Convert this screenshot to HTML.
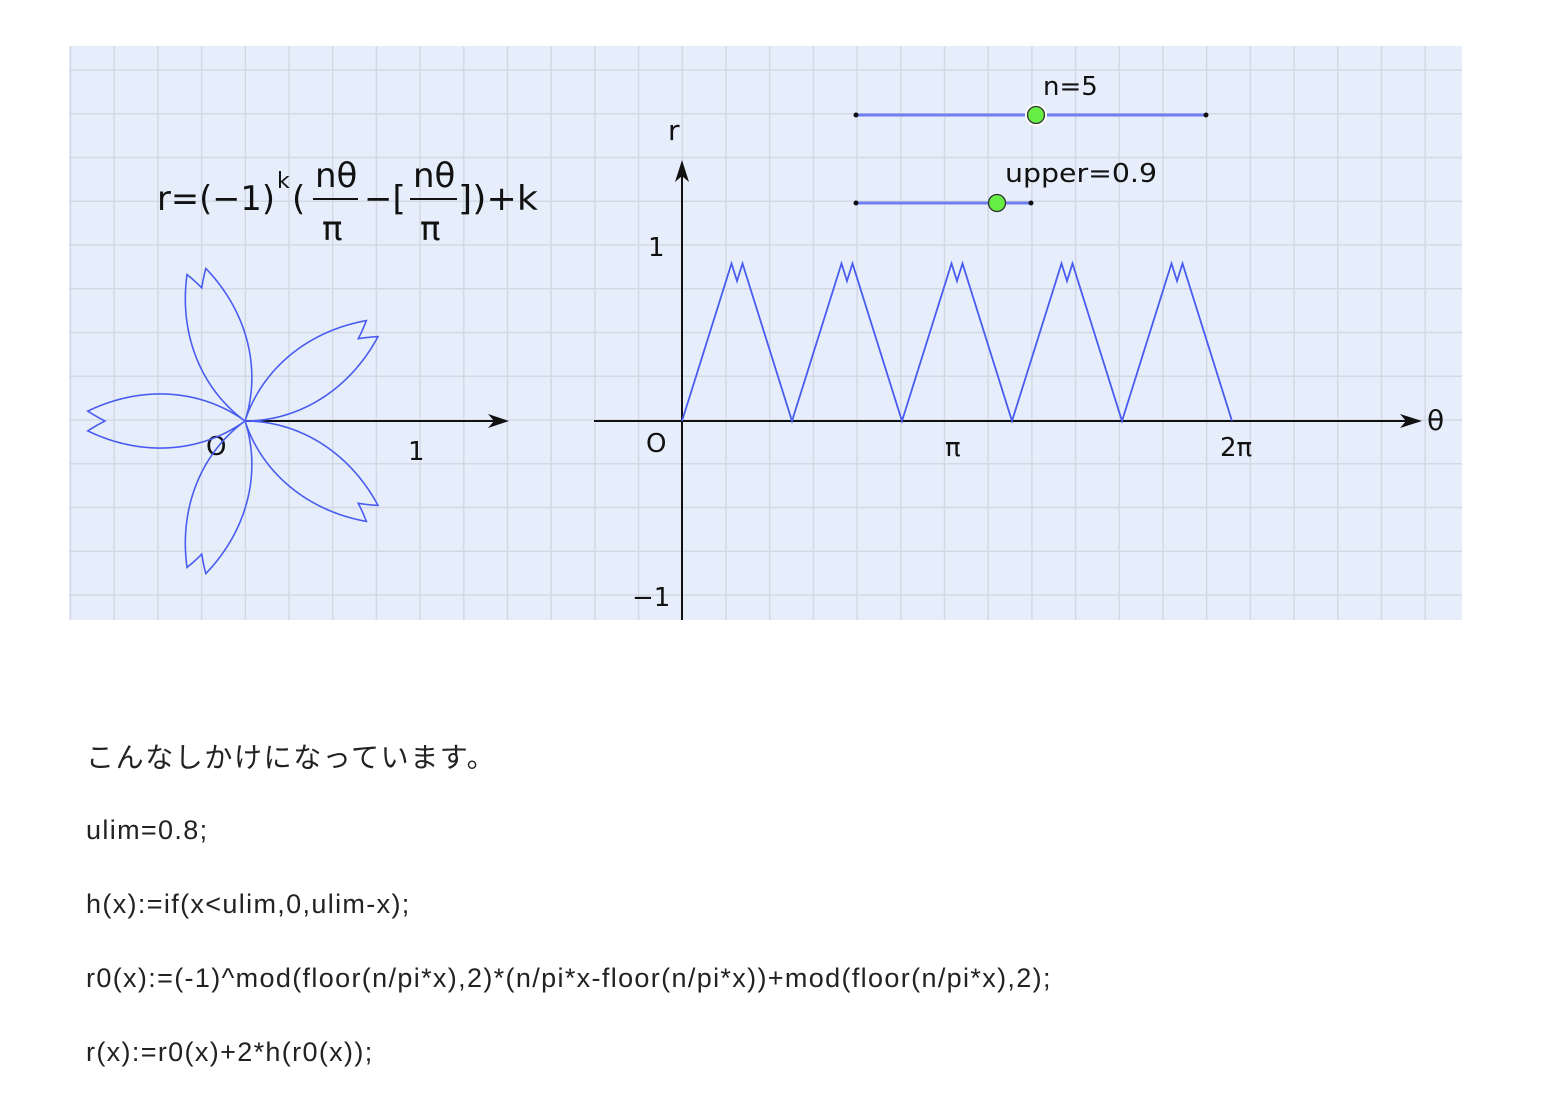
<!DOCTYPE html>
<html><head><meta charset="utf-8"><style>
body{margin:0;background:#fff;width:1562px;height:1100px;overflow:hidden;position:relative;font-family:"Liberation Sans","Noto Sans CJK JP",sans-serif}
#panel{position:absolute;left:69px;top:46px}
.t{position:absolute;left:86px;font-size:27px;letter-spacing:1.35px;color:#222;white-space:nowrap;font-family:"Liberation Sans","Noto Sans CJK JP",sans-serif}
</style></head><body>
<svg id="panel" width="1393" height="574" viewBox="69 46 1393 574" xmlns="http://www.w3.org/2000/svg" font-family="DejaVu Sans, Liberation Sans, sans-serif">
<rect x="69" y="46" width="1393" height="574" fill="#e6eefb"/>
<g id="grid" stroke="#d3d9e4" stroke-width="1.5"></g>
<g font-size="34" fill="#111">
<text x="157" y="210" textLength="118" lengthAdjust="spacingAndGlyphs">r=(−1)</text>
<text x="277" y="188" font-size="22">k</text>
<text x="292" y="210">(</text>
<text x="315" y="187">nθ</text>
<line x1="313" y1="199" x2="358" y2="199" stroke="#111" stroke-width="2"/>
<text x="322" y="240">π</text>
<text x="364" y="210">−[</text>
<text x="413" y="187">nθ</text>
<line x1="410" y1="199" x2="457" y2="199" stroke="#111" stroke-width="2"/>
<text x="420" y="240">π</text>
<text x="458" y="210" textLength="80" lengthAdjust="spacingAndGlyphs">])+k</text>
</g>
<g>
<line x1="245" y1="421" x2="500" y2="421" stroke="#111" stroke-width="2"/>
<path d="M488,414 L509,421 L488,428 L494,421Z" fill="#111"/>
<text x="206" y="455" font-size="26" fill="#111">O</text>
<text x="408" y="460" font-size="26" fill="#111">1</text>
</g>
<path id="polar" fill="none" stroke="#4a5cf0" stroke-width="1.6"/>
<g fill="#111">
<line x1="594" y1="421" x2="1412" y2="421" stroke="#111" stroke-width="2"/>
<path d="M1400,414 L1422,421 L1400,428 L1406,421Z"/>
<text x="1427" y="430" font-size="28">θ</text>
<line x1="682" y1="620" x2="682" y2="170" stroke="#111" stroke-width="2"/>
<path d="M675,182 L682,160 L689,182 L682,176Z"/>
<text x="668" y="140" font-size="28">r</text>
<text x="646" y="452" font-size="26">O</text>
<text id="ytick1" x="648" y="251" font-size="26">1</text>
<text id="ytickm1" x="632" y="601" font-size="26">−1</text>
<text id="xtpi" x="944" y="456" font-size="26">π</text>
<text id="xt2pi" x="1220" y="456" font-size="26">2π</text>
</g>
<path id="wave" fill="none" stroke="#4a5cf0" stroke-width="1.8"/>
<g>
<line x1="856" y1="115" x2="1206" y2="115" stroke="#6f7ff0" stroke-width="3"/>
<circle cx="856" cy="115" r="2.5" fill="#111"/><circle cx="1206" cy="115" r="2.5" fill="#111"/>
<circle cx="1036" cy="115" r="11" fill="#fff"/>
<circle cx="1036" cy="115" r="8.5" fill="#66ee44" stroke="#333" stroke-width="1.3"/>
<text x="1043" y="95" font-size="26" fill="#111">n=5</text>
</g>
<g>
<line x1="856" y1="203" x2="1031" y2="203" stroke="#6f7ff0" stroke-width="3"/>
<circle cx="856" cy="203" r="2.5" fill="#111"/><circle cx="1031" cy="203" r="2.5" fill="#111"/>
<circle cx="997" cy="203" r="8.5" fill="#66ee44" stroke="#333" stroke-width="1.3"/>
<text x="1005" y="182" font-size="26" fill="#111" textLength="152" lengthAdjust="spacingAndGlyphs">upper=0.9</text>
</g>
</svg>
<div class="t" style="top:736px;left:86px;font-size:28px;letter-spacing:1.6px">こんなしかけになっています。</div>
<div class="t" style="top:815px">ulim=0.8;</div>
<div class="t" style="top:889px">h(x):=if(x&lt;ulim,0,ulim-x);</div>
<div class="t" style="top:963px">r0(x):=(-1)^mod(floor(n/pi*x),2)*(n/pi*x-floor(n/pi*x))+mod(floor(n/pi*x),2);</div>
<div class="t" style="top:1037px">r(x):=r0(x)+2*h(r0(x));</div>
<script>
const nValue=[5];
const upperValue=[0.9];
const thetaRange=[0,2*Math.PI];
const yTicks=[1,-1];
const g=document.getElementById('grid');
let s='';
for(let k=0;k<33;k++){const x=70.5+k*43.7;s+=`<line x1="${x}" y1="46" x2="${x}" y2="620"/>`;}
for(let k=0;k<14;k++){const y=70+k*43.75;s+=`<line x1="69" y1="${y}" x2="1462" y2="${y}"/>`;}
g.innerHTML=s;
const n=nValue[0],ul=upperValue[0];
function r0(x){const f=Math.floor(n/Math.PI*x),m=((f%2)+2)%2;return Math.pow(-1,m)*(n/Math.PI*x-f)+m;}
function h(x){return x<ul?0:ul-x;}
function r(x){const a=r0(x);return a+2*h(a);}
const cx0=682,cy0=421,xs=275/Math.PI,ys=175;
const X=t=>cx0+t*xs, Y=v=>cy0-v*ys;
let d='';const N=4000;
for(let i=0;i<=N;i++){const t=thetaRange[0]+(thetaRange[1]-thetaRange[0])*i/N;d+=(i?'L':'M')+X(t).toFixed(2)+','+Y(r(t)).toFixed(2);}
document.getElementById('wave').setAttribute('d',d);
const px0=245,py0=421,ps=175;
let p='';
for(let i=0;i<=N;i++){const t=thetaRange[0]+(thetaRange[1]-thetaRange[0])*i/N;const rr=r(t);p+=(i?'L':'M')+(px0+rr*Math.cos(t)*ps).toFixed(2)+','+(py0-rr*Math.sin(t)*ps).toFixed(2);}
document.getElementById('polar').setAttribute('d',p);
document.getElementById('ytick1').setAttribute('y',Y(yTicks[0])+10);
document.getElementById('ytickm1').setAttribute('y',Y(yTicks[1])+10);
document.getElementById('xtpi').setAttribute('x',X(Math.PI)-12);
document.getElementById('xt2pi').setAttribute('x',X(2*Math.PI)-12);
</script>
</body></html>
